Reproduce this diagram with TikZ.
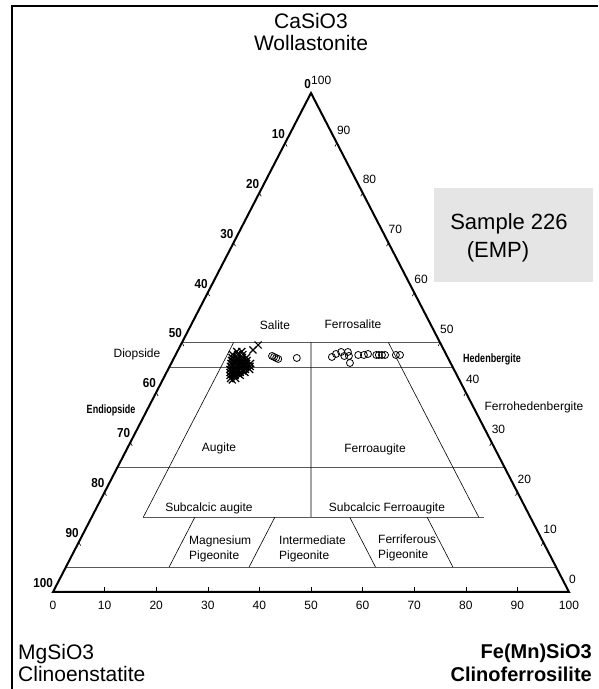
\documentclass[tikz,border=0pt]{standalone}
\usepackage{fontspec}
\setmainfont{Liberation Sans}
\usepackage{graphicx}

\begin{document}
\begin{tikzpicture}[x=1pt,y=1pt,
	lbl/.style={inner sep=0pt, font=\fontsize{12}{15}\selectfont},
	endlbl/.style={inner sep=0pt, font=\fontsize{21}{22.5}\selectfont},
	xmk/.style={black, line width=1.2pt},
	omk/.style={black, line width=0.8pt}]
	\useasboundingbox (0,0) rectangle (598,689);
	\draw[line width=1.2pt] (12,0) -- (12,683) -- (598,683);
	\fill[black!10] (434,407) rectangle (593,501);
	\node[inner sep=0pt, font=\fontsize{22}{24}\selectfont] (smp) at (509,465) {Sample 226};
	\node[inner sep=0pt, font=\fontsize{22}{24}\selectfont] (emp) at (498,437) {(EMP)};
	\node[endlbl, align=center] (wo) at (311,657) {CaSiO3\\Wollastonite};
	\node[endlbl, align=left, anchor=west] (en) at (18,26) {MgSiO3\\Clinoenstatite};
	\node[endlbl, align=right, anchor=east, font=\fontsize{20}{22.5}\selectfont\bfseries] (fs) at (592,26) {Fe(Mn)SiO3\\Clinoferrosilite};
	\begin{scope}[shift={(53pt,97pt)}, x={(5.16pt,0pt)}, y={(2.58pt,4.99pt)}]
	\draw[black!65, line width=0.9pt] (0,50) -- (50,50) (0,45) -- (55,45) (0,25) -- (75,25) (10,15) -- (76,15) (0,5) -- (95,5);
	\draw[line width=0.6pt] (10,50) -- (10,15) (40,50) -- (75,15) (25,50) -- (42.5,15) (20,15) -- (20,5) (35.5,15) -- (35.5,5) (50,15) -- (60,5) (65,15) -- (75,5);
	\draw[line width=2pt] (0,0) -- (100,0) -- (0,100) -- cycle;
	\foreach \k in {1,...,9} {
		\draw[line width=0.6pt] (10*\k,0) -- ++(0,5pt);
		\draw[line width=0.6pt] (0,100-10*\k) -- ++(0.7,-0.7);
		\draw[line width=0.6pt] (100-10*\k,10*\k) -- ++(0,-0.7);
	}
	\foreach \k in {0,10,...,100} {
		\node[lbl, yshift=-13pt] (b\k) at (\k,0) {\k};
		\node[lbl, anchor=east, yshift=9pt] (l\k) at (0,100-\k) {\scalebox{0.9}[1]{\fontsize{13}{15}\selectfont\bfseries\k}};
		\node[lbl, anchor=west, yshift=13pt] (r\k) at (100-\k,\k) {\k};
	}
	\foreach \f/\w in {18.8/47.3, 19.3/47.1, 19.8/46.9, 20.3/46.7, 23.8/46.9, 30.5/47.1, 31.0/47.7, 31.8/48.1, 32.8/47.3, 33.1/48.1, 33.7/47.3, 34.6/45.9, 35.4/47.5, 36.5/47.5, 37.2/47.7, 38.9/47.5, 39.4/47.5, 40.0/47.5, 40.6/47.5, 42.7/47.5, 43.5/47.5}
		\draw[omk] (\f,\w) circle (3.5pt);
	\foreach \f/\w in {11.5/48.2, 12.5/48.2, 11.0/47.6, 12.0/47.6, 13.0/47.6, 11.2/47.0, 12.2/47.0, 13.2/47.0, 14.0/47.0, 11.4/46.4, 12.4/46.4, 13.4/46.4, 14.4/46.4, 11.6/45.8, 12.6/45.8, 13.6/45.8, 14.6/45.8, 15.4/45.8, 11.8/45.2, 12.8/45.2, 13.8/45.2, 14.8/45.2, 15.6/45.2, 12.0/44.6, 13.0/44.6, 14.0/44.6, 15.0/44.6, 15.8/44.6, 12.3/44.0, 13.3/44.0, 14.3/44.0, 15.2/44.0, 12.6/43.4, 13.6/43.4, 14.6/43.4, 13.0/42.8, 14.0/42.8, 12.1/46.1, 13.1/46.1, 14.1/46.1, 12.3/45.5, 13.3/45.5, 14.3/45.5, 12.6/44.3, 13.6/44.3, 14.6/44.3, 13.1/43.7, 14.1/43.7, 13.5/42.5, 14.5/48.5, 15.0/49.5}
		\draw[xmk] (\f,\w) +(-3.5pt,-3.5pt) -- +(3.5pt,3.5pt) +(-3.5pt,3.5pt) -- +(3.5pt,-3.5pt);
	\end{scope}
	\node[lbl] (sal) at (275,364) {Salite};
	\node[lbl] (fsal) at (353,365) {Ferrosalite};
	\node[lbl] (dio) at (137,335) {Diopside};
	\node[lbl] (endi) at (111,279) {\scalebox{0.75}[1]{\bfseries Endiopside}};
	\node[lbl] (aug) at (219,241) {Augite};
	\node[lbl] (hed) at (492,330) {\scalebox{0.75}[1]{\bfseries Hedenbergite}};
	\node[lbl] (fhed) at (534,282) {Ferrohedenbergite};
	\node[lbl] (faug) at (375,240) {Ferroaugite};
	\node[lbl] (saug) at (209,181) {Subcalcic augite};
	\node[lbl] (sfaug) at (387,181) {Subcalcic Ferroaugite};
	\node[lbl, align=left, anchor=west] (mpig) at (189,140) {Magnesium\\Pigeonite};
	\node[lbl, align=left, anchor=west] (ipig) at (279,140) {Intermediate\\Pigeonite};
	\node[lbl, align=left, anchor=west] (fpig) at (378,141) {Ferriferous\\Pigeonite};
\end{tikzpicture}
\end{document}
